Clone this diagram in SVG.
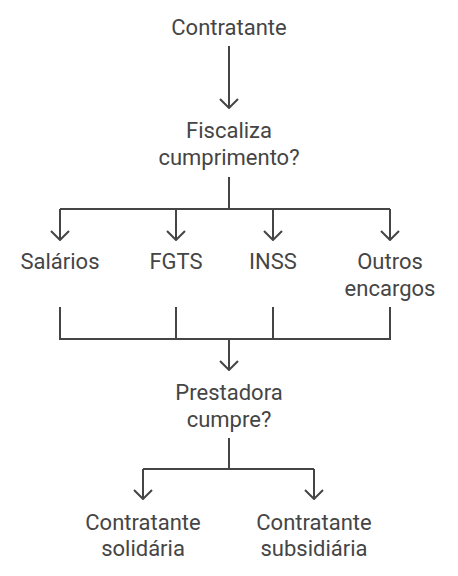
<svg xmlns="http://www.w3.org/2000/svg" width="458" height="576" viewBox="0 0 458 576">
<defs>
<style>
text{font-family:Roboto,"Liberation Sans",sans-serif;font-size:22px;fill:#454545;text-anchor:middle}
.c{fill:none;stroke:#454545;stroke-width:2}
</style>
<marker id="ah" viewBox="0 0 12 20" refX="11" refY="10" markerWidth="12" markerHeight="20" markerUnits="userSpaceOnUse" orient="auto">
<path d="M2,1 L11,10 L2,19" fill="none" stroke="#454545" stroke-width="2"/>
</marker>
</defs>
<rect width="458" height="576" fill="#fff"/>
<g id="connectors">
<line class="c" x1="229" y1="46" x2="229" y2="108" marker-end="url(#ah)"/>
<path class="c" d="M229,177 V209 M60,209 H390"/>
<line class="c" x1="60" y1="209" x2="60" y2="240" marker-end="url(#ah)"/>
<line class="c" x1="176" y1="209" x2="176" y2="240" marker-end="url(#ah)"/>
<line class="c" x1="273" y1="209" x2="273" y2="240" marker-end="url(#ah)"/>
<line class="c" x1="390" y1="209" x2="390" y2="240" marker-end="url(#ah)"/>
<path class="c" d="M60,307 V339 H390 V307 M176,307 V339 M273,307 V339"/>
<line class="c" x1="229" y1="339" x2="229" y2="370" marker-end="url(#ah)"/>
<path class="c" d="M229,438 V469 M143,469 H314"/>
<line class="c" x1="143" y1="469" x2="143" y2="499" marker-end="url(#ah)"/>
<line class="c" x1="314" y1="469" x2="314" y2="499" marker-end="url(#ah)"/>
</g>
<g id="contratante"><text x="229" y="35">Contratante</text></g>
<g id="fiscaliza"><text x="229" y="138">Fiscaliza</text><text x="229" y="165">cumprimento?</text></g>
<g id="salarios"><text x="60" y="269">Salários</text></g>
<g id="fgts"><text x="176" y="269">FGTS</text></g>
<g id="inss"><text x="273" y="269">INSS</text></g>
<g id="outros"><text x="390" y="269">Outros</text><text x="390" y="296">encargos</text></g>
<g id="prestadora"><text x="229" y="400">Prestadora</text><text x="229" y="427">cumpre?</text></g>
<g id="solidaria"><text x="143" y="530">Contratante</text><text x="143" y="556">solidária</text></g>
<g id="subsidiaria"><text x="314" y="530">Contratante</text><text x="314" y="556">subsidiária</text></g>
</svg>
